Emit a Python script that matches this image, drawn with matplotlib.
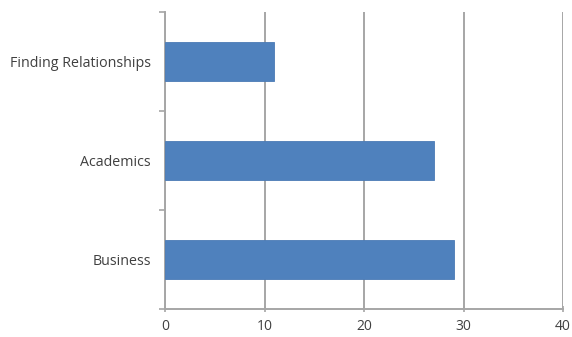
import matplotlib.pyplot as plt
import numpy as np

categories = ['Business', 'Academics', 'Finding Relationships']
values = [29, 27, 11]
x_ticks = [0, 10, 20, 30, 40]

bar_color = '#4F81BD'
grid_color = '#A6A6A6'
text_color = '#404040'

plt.rcParams['font.family'] = ['Open Sans', 'DejaVu Sans']

fig = plt.figure(figsize=(5.72, 3.37), dpi=100)
ax = fig.add_axes([165 / 572, 1 - 309 / 337, (563 - 165) / 572, (309 - 12) / 337])

y = np.arange(len(categories))
ax.barh(y, values, height=0.4, color=bar_color, edgecolor='#4A7AB5', linewidth=0.6, zorder=3)

ax.set_xlim(0, 40)
ax.set_ylim(-0.5, len(categories) - 0.5)
ax.set_xticks(x_ticks)
ax.set_yticks(y)
ax.set_yticklabels(categories)
ax.set_yticks(np.arange(len(categories) + 1) - 0.5, minor=True)

ax.grid(axis='x', color=grid_color, linewidth=1.4, zorder=0)
for s in ['top', 'right']:
    ax.spines[s].set_visible(False)
for s in ['left', 'bottom']:
    ax.spines[s].set_color(grid_color)
    ax.spines[s].set_linewidth(1.4)

ax.tick_params(axis='y', which='major', length=0, pad=10, labelsize=10.3, labelcolor=text_color)
ax.tick_params(axis='y', which='minor', length=4, width=1.2, color=grid_color, direction='out')
ax.tick_params(axis='x', length=5, width=1.2, color=grid_color, direction='inout', pad=5,
               labelsize=10, labelcolor=text_color)

fig.savefig('out.png', dpi=100)
